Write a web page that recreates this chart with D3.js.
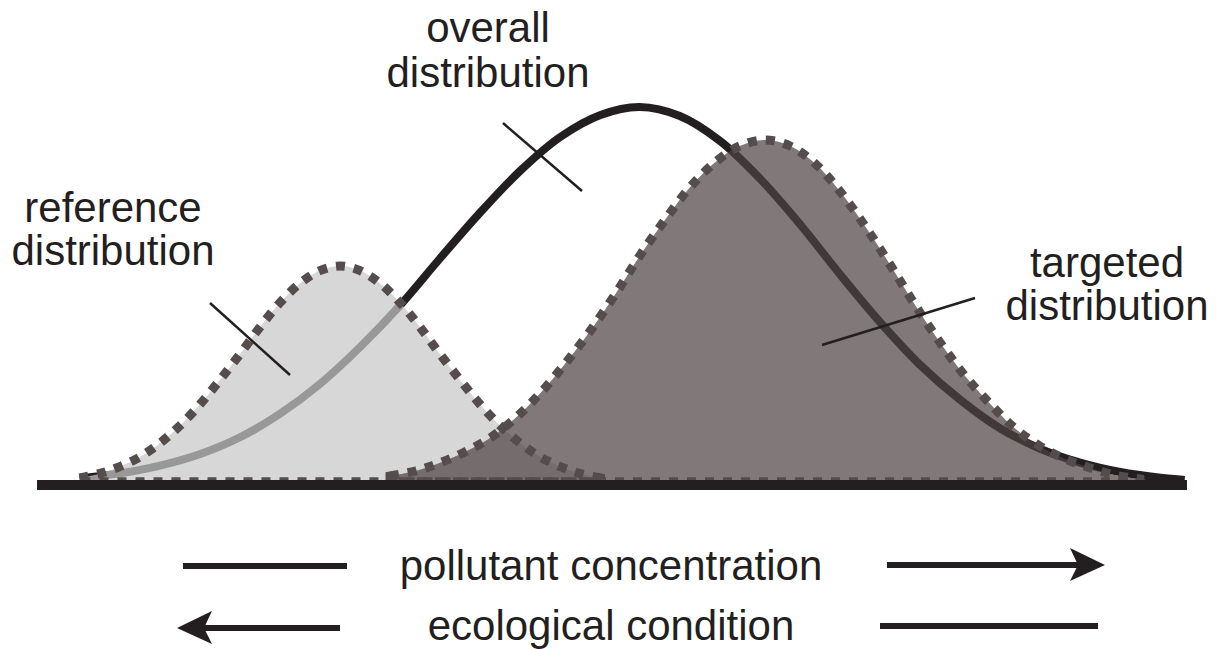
<!DOCTYPE html>
<html><head><meta charset="utf-8">
<script src="https://cdn.jsdelivr.net/npm/d3@7"></script>
<style>html,body{margin:0;padding:0;background:#fff;}svg{display:block;}</style>
</head><body>
<script>
// ---- data (x: concentration 0-100, y: relative frequency 0-100) ----
const refX = [3.7, 5.5, 7.2, 9.0, 10.7, 12.4, 14.2, 15.9, 17.7, 19.4, 21.1, 22.9, 24.6, 26.4, 28.1, 29.8, 31.6, 33.3, 35.0, 36.8, 38.5, 40.3, 42.0, 43.7, 45.5, 47.2, 49.0];
const refY = [1.75, 2.9, 4.6, 7.1, 10.5, 14.75, 20.25, 26.25, 32.9, 39.5, 45.5, 50.5, 53.6, 54.75, 53.6, 50.5, 45.5, 39.5, 32.9, 26.25, 20.25, 14.75, 10.5, 7.1, 4.6, 2.9, 1.75];

const tgtX = [30.7, 32.9, 35.0, 37.2, 39.4, 41.6, 43.7, 45.9, 48.1, 50.3, 52.4, 54.6, 56.8, 59.0, 61.1, 63.3, 65.5, 67.7, 69.8, 72.0, 74.2, 76.3, 78.5, 80.7, 82.9, 85.0, 87.2, 89.4, 91.6, 93.7, 95.9];
const tgtY = [2.25, 3.5, 5.5, 8.25, 11.75, 16.75, 22.75, 30.25, 38.5, 47.75, 57.25, 66.25, 74.5, 80.75, 84.75, 86.25, 84.75, 80.25, 73.5, 64.75, 55, 45.25, 35.75, 27.25, 20.25, 14.25, 9.75, 6.5, 4.25, 2.5, 1.5];

const allX = [3.7, 7.2, 10.7, 14.2, 17.7, 21.1, 24.6, 28.1, 31.6, 35.0, 38.5, 42.0, 45.5, 49.0, 52.4, 55.9, 59.4, 62.9, 66.4, 69.8, 73.3, 76.8, 80.3, 83.7, 87.2, 90.7, 94.2, 97.7, 99.8];
const allY = [1.65, 2.9, 4.85, 7.75, 12, 17.75, 25.25, 34.5, 45, 56.5, 68, 78.5, 87, 92.5, 94.5, 92.25, 86, 76.5, 65, 52.75, 40.75, 30, 21.25, 14.25, 9.1, 5.6, 3.25, 1.8, 1.25];

const labelOverall = ["overall", "distribution"];
const labelReference = ["reference", "distribution"];
const labelTargeted = ["targeted", "distribution"];
const axisLabels = ["pollutant concentration", "ecological condition"];

// ---- drawing ----
const W = 1219, H = 649;
const ink = "#231f20";
const svg = d3.select("body").append("svg").attr("width", W).attr("height", H);

const x = d3.scaleLinear().domain([0, 100]).range([37, 1187]);
const y = d3.scaleLinear().domain([0, 100]).range([485, 85]);

const zip = (a, b) => a.map((v, i) => [v, b[i]]);
const refData = zip(refX, refY), tgtData = zip(tgtX, tgtY), allData = zip(allX, allY);

const curve = d3.curveCatmullRom.alpha(0.5);
const line = d3.line().x(d => x(d[0])).y(d => y(d[1])).curve(curve);
const area = d3.area().x(d => x(d[0])).y0(y(0.8)).y1(d => y(d[1])).curve(curve);

// overall distribution line (underneath the translucent fills)
svg.append("path").attr("d", line(allData))
  .attr("fill", "none").attr("stroke", ink).attr("stroke-width", 8);

// fills
svg.append("path").attr("d", area(refData))
  .attr("fill", "rgb(200,200,200)").attr("fill-opacity", 0.72);
svg.append("path").attr("d", area(tgtData))
  .attr("fill", "rgb(77,66,66)").attr("fill-opacity", 0.71);

// dotted outlines
[refData, tgtData].forEach(dd => {
  svg.append("path").attr("d", area(dd))
    .attr("fill", "none").attr("stroke", "#554c4c")
    .attr("stroke-width", 9).attr("stroke-dasharray", "9 9");
});

// baseline axis
const axisG = svg.append("g").attr("transform", `translate(0,${y(0)})`);
axisG.append("line").attr("x1", x(0)).attr("x2", x(100))
  .attr("stroke", ink).attr("stroke-width", 10);

// leader lines
const leaders = [[503, 123, 582, 191], [210, 303, 290, 375], [975, 298, 822, 345]];
svg.selectAll("line.leader").data(leaders).enter().append("line")
  .attr("class", "leader")
  .attr("x1", d => d[0]).attr("y1", d => d[1]).attr("x2", d => d[2]).attr("y2", d => d[3])
  .attr("stroke", ink).attr("stroke-width", 2.5);

// labels
function label(lines, cx, baselines) {
  lines.forEach((t, i) => {
    svg.append("text").attr("x", cx).attr("y", baselines[i])
      .attr("text-anchor", "middle")
      .attr("font-family", "'Liberation Sans', Arial, sans-serif")
      .attr("font-size", 42).attr("fill", ink).text(t);
  });
}
label(labelOverall, 488, [42, 87]);
label(labelReference, 113, [222, 265]);
label(labelTargeted, 1107, [277, 320]);
label(axisLabels.slice(0, 1), 611, [580]);
label(axisLabels.slice(1, 2), 611, [640]);

// arrows
function hline(x1, x2, yy) {
  svg.append("line").attr("x1", x1).attr("x2", x2).attr("y1", yy).attr("y2", yy)
    .attr("stroke", ink).attr("stroke-width", 6);
}
function head(tipX, yy, dir) {
  const b = tipX - dir * 35, n = tipX - dir * 27;
  svg.append("path")
    .attr("d", `M${tipX},${yy} L${b},${yy - 17} L${n},${yy} L${b},${yy + 16} Z`)
    .attr("fill", ink);
}
hline(183, 347, 566);
hline(887, 1080, 565);
head(1105, 565, 1);
hline(200, 340, 628);
head(177, 628, -1);
hline(880, 1098, 626);
</script>
</body></html>
